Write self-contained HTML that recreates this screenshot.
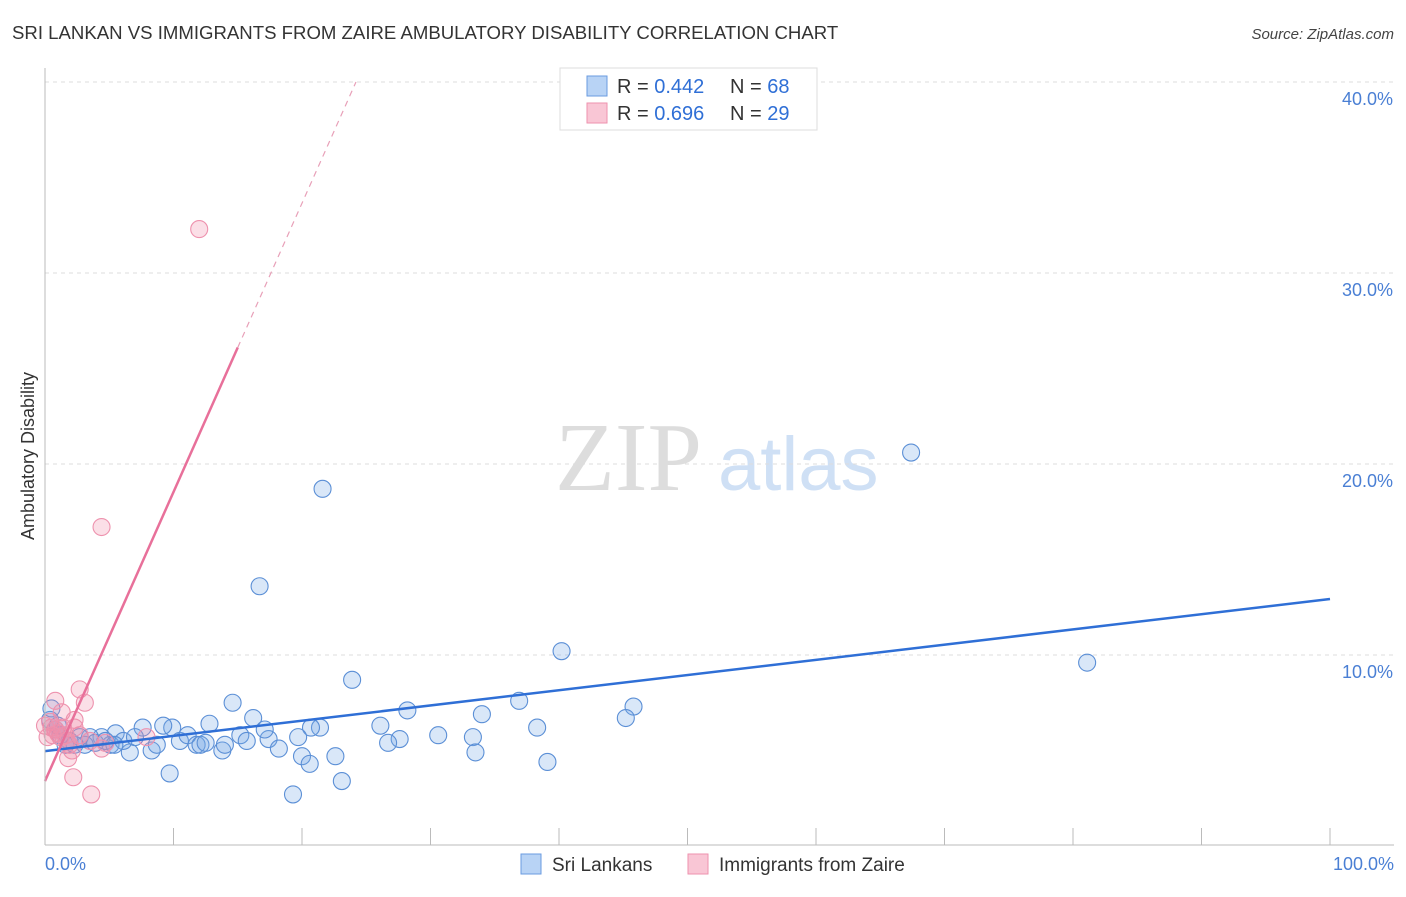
<!DOCTYPE html>
<html><head><meta charset="utf-8"><style>
body{margin:0;background:#fff;width:1406px;height:892px;overflow:hidden;font-family:"Liberation Sans",sans-serif}
</style></head><body>
<svg id="chart" width="1406" height="892" xmlns="http://www.w3.org/2000/svg" font-family="Liberation Sans, sans-serif">
<text x="12" y="39" font-size="18.6" fill="#333">SRI LANKAN VS IMMIGRANTS FROM ZAIRE AMBULATORY DISABILITY CORRELATION CHART</text>
<text x="1394" y="39" font-size="15" fill="#444" text-anchor="end" font-style="italic">Source: ZipAtlas.com</text>
<text x="555" y="490" font-size="98" fill="#ddd" font-family="Liberation Serif, serif">ZIP</text>
<text x="718" y="490" font-size="76" fill="#cfe0f5">atlas</text>
<text transform="translate(34,456) rotate(-90)" font-size="18" fill="#333" text-anchor="middle">Ambulatory Disability</text>
<g id="grid"></g><g id="ticks"></g><g id="pts"></g><g id="lines"></g>
<line x1="45" y1="68" x2="45" y2="845" stroke="#bbb"/>
<line x1="45" y1="845" x2="1394" y2="845" stroke="#bbb"/>
<text x="45" y="870" font-size="18" fill="#4a7fd4">0.0%</text>
<text x="1394" y="870" font-size="18" fill="#4a7fd4" text-anchor="end">100.0%</text>
<g>
<rect x="560" y="68" width="257" height="62" fill="#fff" stroke="#ddd"/>
<rect x="587" y="76" width="20" height="20" fill="#b8d3f5" stroke="#6a9be0"/>
<rect x="587" y="103" width="20" height="20" fill="#f9c6d5" stroke="#ee92ae"/>
<text x="617" y="93" font-size="20" fill="#333">R = <tspan fill="#2f6fd6">0.442</tspan></text>
<text x="730" y="93" font-size="20" fill="#333">N = <tspan fill="#2f6fd6">68</tspan></text>
<text x="617" y="120" font-size="20" fill="#333">R = <tspan fill="#2f6fd6">0.696</tspan></text>
<text x="730" y="120" font-size="20" fill="#333">N = <tspan fill="#2f6fd6">29</tspan></text>
</g>
<g><rect x="521" y="854" width="20" height="20" fill="#b8d3f5" stroke="#6a9be0"/><text x="552" y="871" font-size="19" fill="#333">Sri Lankans</text></g>
<g><rect x="688" y="854" width="20" height="20" fill="#f9c6d5" stroke="#ee92ae"/><text x="719" y="871" font-size="19" fill="#333">Immigrants from Zaire</text></g>
</svg>
<script>
const yTicks=[10,20,30,40];
const xTicks=[10,20,30,40,50,60,70,80,90,100];
const blueX=[21.6,67.4,16.7,40.2,81.1,23.9,14.6,36.9,45.8,45.2,28.2,34.0,16.2,26.1,38.3,30.6,33.3,27.6,26.7,21.4,20.7,12.8,9.9,7.6,9.2,6.6,8.3,5.5,4.4,3.5,3.1,5.1,6.1,10.5,11.1,11.8,12.1,13.8,15.2,15.7,17.4,18.2,19.7,20.0,20.6,22.6,14.0,9.7,19.3,23.1,39.1,33.5,0.8,0.4,1.2,1.9,2.7,3.9,4.7,1.6,0.5,1.0,2.3,8.7,7.0,5.4,12.5,17.1];
const blueY=[18.7,20.6,13.6,10.2,9.6,8.7,7.5,7.6,7.3,6.7,7.1,6.9,6.7,6.3,6.2,5.8,5.7,5.6,5.4,6.2,6.2,6.4,6.2,6.2,6.3,4.9,5.0,5.9,5.7,5.7,5.3,5.3,5.5,5.5,5.8,5.3,5.3,5.0,5.8,5.5,5.6,5.1,5.7,4.7,4.3,4.7,5.3,3.8,2.7,3.4,4.4,4.9,6.1,6.6,5.8,5.5,5.7,5.4,5.5,5.3,7.2,6.3,5.3,5.3,5.7,5.3,5.4,6.1];
const pinkX=[12.0,4.4,0.8,2.7,3.1,1.3,2.3,0.4,0.8,1.2,1.7,1.9,2.1,1.8,2.2,3.6,4.4,7.9,4.7,0.5,1.0,1.6,0.2,2.7,3.5,0.0,1.4,0.6,2.3];
const pinkY=[32.3,16.7,7.6,8.2,7.5,7.0,6.6,6.5,6.1,5.7,5.5,5.3,5.0,4.6,3.6,2.7,5.1,5.7,5.4,6.2,5.9,5.8,5.7,5.8,5.5,6.3,6.2,5.8,6.2];
const blueLine=[0,4.97,100,12.93];
const pinkLine=[0,3.4,15,26.1,24.2,40];
const X=v=>45+v*12.85, Y=v=>846-v*19.1;
const NS="http://www.w3.org/2000/svg";
function mk(p,t,a){const e=document.createElementNS(NS,t);for(const k in a)e.setAttribute(k,a[k]);document.getElementById(p).appendChild(e);return e;}
yTicks.forEach(t=>{
 const g=mk('grid','line',{x1:45,x2:1394,y1:Y(t),y2:Y(t),stroke:'#ddd','stroke-dasharray':'4,4'});
 
 
 const l=mk('grid','text',{x:1393,y:Y(t)+23,'font-size':18,fill:'#4a7fd4','text-anchor':'end'});
 l.textContent=t.toFixed(1)+'%';
 
 
});
xTicks.forEach(t=>{
 const k=mk('ticks','line',{x1:X(t),x2:X(t),y1:828,y2:845,stroke:'#bbb'});
 
 
});
blueX.forEach((v,i)=>{
 const c=mk('pts','circle',{cx:X(v),cy:Y(blueY[i]),r:8.5,fill:'rgba(120,170,230,0.28)',stroke:'#5b8fd6','stroke-width':1.1});
 
 
});
pinkX.forEach((v,i)=>{
 const c=mk('pts','circle',{cx:X(v),cy:Y(pinkY[i]),r:8.5,fill:'rgba(240,140,170,0.28)',stroke:'#ee92ae','stroke-width':1.1});
 
 
});
const bl=mk('lines','line',{x1:X(blueLine[0]),y1:Y(blueLine[1]),x2:X(blueLine[2]),y2:Y(blueLine[3]),stroke:'#2f6fd6','stroke-width':2.5});


const pl=mk('lines','line',{x1:X(pinkLine[0]),y1:Y(pinkLine[1]),x2:X(pinkLine[2]),y2:Y(pinkLine[3]),stroke:'#e8709a','stroke-width':2.5});


const pd=mk('lines','line',{x1:X(pinkLine[2]),y1:Y(pinkLine[3]),x2:X(pinkLine[4]),y2:Y(pinkLine[5]),stroke:'#e8a0b8','stroke-width':1.2,'stroke-dasharray':'6,5'});


</script>
</body></html>
